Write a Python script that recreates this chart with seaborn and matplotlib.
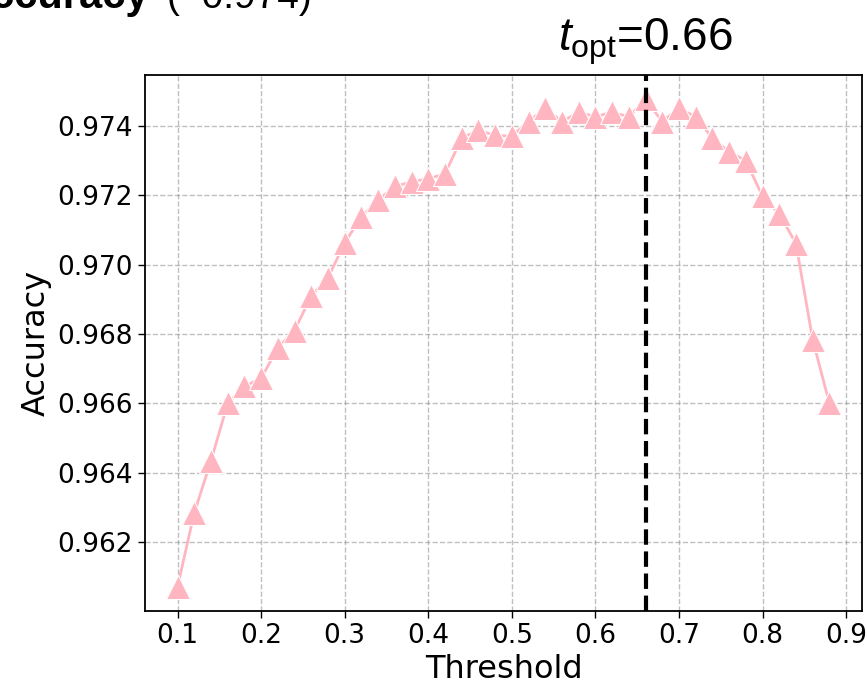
import matplotlib
matplotlib.use("Agg")
import matplotlib.pyplot as plt
import matplotlib.transforms as mtransforms
import seaborn as sns
import pandas as pd

thresholds = [0.10, 0.12, 0.14, 0.16, 0.18, 0.20, 0.22, 0.24, 0.26, 0.28,
              0.30, 0.32, 0.34, 0.36, 0.38, 0.40, 0.42, 0.44, 0.46, 0.48,
              0.50, 0.52, 0.54, 0.56, 0.58, 0.60, 0.62, 0.64, 0.66, 0.68,
              0.70, 0.72, 0.74, 0.76, 0.78, 0.80, 0.82, 0.84, 0.86, 0.88]
accuracy = [0.96071, 0.96284, 0.96434, 0.96600, 0.96649, 0.96672, 0.96760, 0.96810, 0.96910, 0.96962,
            0.97063, 0.97138, 0.97186, 0.97226, 0.97239, 0.97248, 0.97262, 0.97365, 0.97388, 0.97373,
            0.97371, 0.97413, 0.97451, 0.97413, 0.97440, 0.97427, 0.97440, 0.97427, 0.97477, 0.97413,
            0.97451, 0.97427, 0.97365, 0.97326, 0.97300, 0.97197, 0.97147, 0.97061, 0.96784, 0.96600]
t_opt = 0.66
best_acc_label = "0.974"
x_ticks = [0.1, 0.2, 0.3, 0.4, 0.5, 0.6, 0.7, 0.8, 0.9]
y_ticks = [0.962, 0.964, 0.966, 0.968, 0.970, 0.972, 0.974]

sns.set_theme(style="ticks")
plt.rcParams["font.family"] = ["DejaVu Sans"]
plt.rcParams["text.color"] = "black"
plt.rcParams["axes.labelcolor"] = "black"
plt.rcParams["xtick.color"] = "black"
plt.rcParams["ytick.color"] = "black"
plt.rcParams["mathtext.fontset"] = "custom"
plt.rcParams["mathtext.rm"] = "Liberation Sans"
plt.rcParams["mathtext.it"] = "Liberation Sans:italic"
plt.rcParams["mathtext.bf"] = "Liberation Sans:bold"

df = pd.DataFrame({"Threshold": thresholds, "Accuracy": accuracy})

fig, ax = plt.subplots(figsize=(8.67, 6.89), dpi=100)
fig.subplots_adjust(left=0.1672, right=0.9942, bottom=0.1132, top=0.8911)

sns.lineplot(data=df, x="Threshold", y="Accuracy", ax=ax, color="lightpink",
             marker="^", markersize=17, linewidth=2)
ax.axvline(t_opt, color="black", linestyle="--", linewidth=3)

ax.set_xticks(x_ticks)
ax.set_yticks(y_ticks)
ax.set_yticklabels([f"{v:.3f}" for v in y_ticks])
ax.tick_params(axis="both", labelsize=19, length=5, width=1, colors="black", direction="out")
ax.set_xlabel("Threshold", fontsize=23, color="black")
ax.set_ylabel("Accuracy", fontsize=23, color="black")
ax.grid(True, linestyle="--", color="gray", alpha=0.5, linewidth=1)
for s in ax.spines.values():
    s.set_visible(True)
    s.set_color("black")
    s.set_linewidth(1.3)

trans = mtransforms.blended_transform_factory(ax.transData, ax.transAxes)
ax.text(t_opt, 1.015, r"$t_{\mathrm{opt}}$=" + f"{t_opt:.2f}", transform=trans,
        ha="center", va="bottom", fontsize=33, family="Liberation Sans", color="black")

title_y = 1 - 8 / 689
fig.text(149 / 867, title_y, "Accuracy", ha="right", va="baseline", fontsize=30,
         fontweight="bold", family="Liberation Sans", color="black")
fig.text(312 / 867, title_y, "(~" + best_acc_label + ")", ha="right", va="baseline",
         fontsize=28, family="Liberation Sans", color="black")

fig.savefig("out.png", dpi=100)
